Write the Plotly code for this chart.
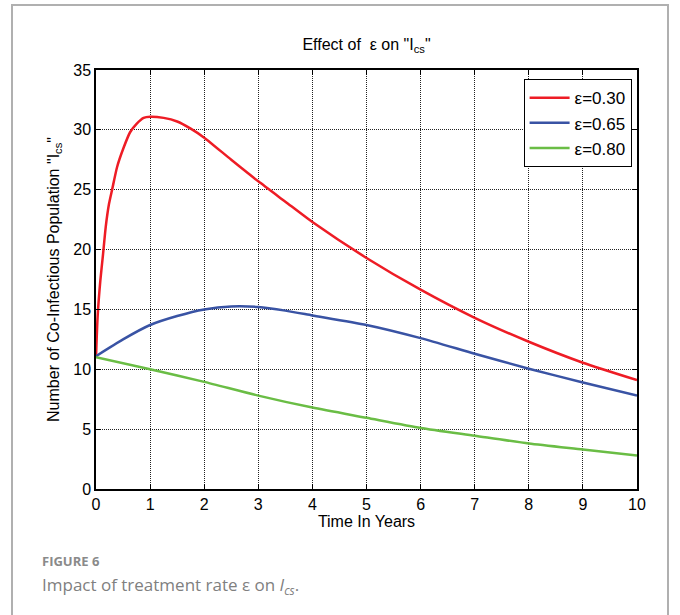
import plotly.graph_objects as go

# ---- data ----
t_red = [0, 0.03, 0.08, 0.13, 0.18, 0.24, 0.30, 0.39, 0.51, 0.63, 0.75, 0.88, 1.0, 1.25, 1.5, 1.75,
         2, 2.5, 3, 3.5, 4, 5, 6, 7, 8, 9, 10]
y_red = [11, 14.4, 17.4, 19.6, 21.9, 23.8, 25.05, 26.9, 28.5, 29.8, 30.5, 31.0, 31.1, 31.0, 30.7, 30.1,
         29.35, 27.5, 25.7, 24.0, 22.3, 19.3, 16.65, 14.3, 12.3, 10.55, 9.1]

t_blue = [0, 0.5, 1, 1.5, 2, 2.5, 3, 3.5, 4, 5, 6, 7, 8, 9, 10]
y_blue = [11.1, 12.5, 13.7, 14.45, 15.0, 15.25, 15.2, 14.9, 14.5, 13.7, 12.6, 11.3, 10.05, 8.9, 7.8]

t_green = [0, 1, 2, 3, 4, 5, 6, 7, 8, 9, 10]
y_green = [11.0, 10.0, 8.95, 7.8, 6.8, 5.95, 5.1, 4.45, 3.8, 3.3, 2.8]

series_names = ["ε=0.30", "ε=0.65", "ε=0.80"]
series_colors = ["#ee1c25", "#3953a4", "#6abd45"]

x_ticks = list(range(0, 11))
y_ticks = list(range(0, 36, 5))

FONT = "Liberation Sans, Arial, sans-serif"

fig = go.Figure()
for t, y, name, col in zip([t_red, t_blue, t_green], [y_red, y_blue, y_green], series_names, series_colors):
    fig.add_trace(go.Scatter(x=t, y=y, mode="lines", name=name,
                             line=dict(color=col, width=2.5, shape="spline", smoothing=0.6)))

axis_common = dict(showline=True, linecolor="black", linewidth=1.5, mirror="ticks",
                   ticks="inside", ticklen=5, tickcolor="black", showgrid=True,
                   gridcolor="#222222", griddash="1px,1px", gridwidth=1, zeroline=False,
                   tickfont=dict(family=FONT, size=16, color="black"))

fig.update_xaxes(range=[0, 10], tickvals=x_ticks, title=dict(text="Time In Years",
                 font=dict(family=FONT, size=16, color="black"), standoff=4), **axis_common)
fig.update_yaxes(range=[0, 35], tickvals=y_ticks,
                 title=dict(text='Number of Co-Infectious Population "I<sub>cs</sub>"',
                            font=dict(family=FONT, size=16, color="black"), standoff=10),
                 **axis_common)

fig.update_layout(
    width=680, height=615,
    margin=dict(l=96, r=43, t=70, b=126),
    paper_bgcolor="white", plot_bgcolor="white",
    title=dict(text='Effect of  ε on "I<sub>cs</sub>"', x=(96 + 637) / 2 / 680, xanchor="center",
               y=1 - 44 / 615, yanchor="middle", font=dict(family=FONT, size=16, color="black")),
    legend=dict(x=0.99, xanchor="right", y=0.978, yanchor="top", bgcolor="white",
                bordercolor="black", borderwidth=1, font=dict(family=FONT, size=17, color="black"),
                tracegroupgap=0, itemwidth=40),
    showlegend=True,
    shapes=[dict(type="rect", xref="paper", yref="paper",
                 x0=(12 - 96) / 541, x1=(668 - 96) / 541,
                 y0=(489 - 640) / 419, y1=(489 - 5) / 419,
                 line=dict(color="#b0b0b0", width=2), fillcolor="rgba(0,0,0,0)", layer="below")],
    annotations=[
        dict(text="<b>FIGURE 6</b>", xref="paper", yref="paper", x=(40 - 96) / 541, xanchor="left",
             y=(489 - 561) / 419, yanchor="middle", showarrow=False,
             font=dict(family="Open Sans, sans-serif", size=13, color="#8a8a8a")),
        dict(text="Impact of treatment rate ε on <i>I</i><sub><i>cs</i></sub>.", xref="paper", yref="paper",
             x=(40 - 96) / 541, xanchor="left", y=(489 - 585) / 419, yanchor="middle", showarrow=False,
             font=dict(family="Open Sans, sans-serif", size=17, color="#808080")),
    ],
)

fig.write_html("out.html")
